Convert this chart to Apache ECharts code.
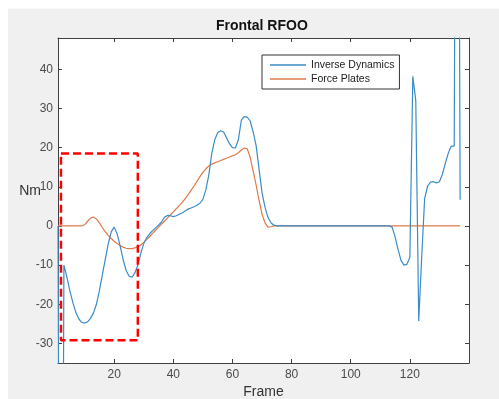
<!DOCTYPE html>
<html>
<head>
<meta charset="utf-8">
<script src="https://cdn.jsdelivr.net/npm/echarts@6/dist/echarts.min.js"></script>
<style>html,body{margin:0;padding:0;background:#fff}#c{width:499px;height:399px}</style>
</head>
<body>
<div id="c"></div>
<script>
// Inverse Dynamics, frames 1..137
var inverseDynamics = [
  0, -200, -10, -13, -16.5, -19.5, -22, -23.7, -24.6, -24.8,
  -24.5, -23.6, -22.2, -20, -16.5, -12.5, -8.5, -4.5, -1.5, -0.3,
  -2, -5, -8.5, -11.3, -12.8, -13.1, -12, -10, -7, -4.5,
  -3, -2, -1.2, -0.5, 0.2, 1, 2.2, 2.7, 2.6, 2.4,
  2.6, 3, 3.3, 3.8, 4.3, 4.6, 4.9, 5.3, 5.8, 6.8,
  9.2, 13, 18.5, 22, 23.8, 24.3, 24, 22.5, 21, 20,
  19.9, 22, 27, 27.9, 27.8, 26.8, 24, 20.5, 14.5, 8.5,
  4.8, 2.2, 0.8, 0.2,
  0, 0, 0, 0, 0, 0, 0, 0, 0, 0,
  0, 0, 0, 0, 0, 0, 0, 0, 0, 0,
  0, 0, 0, 0, 0, 0, 0, 0, 0, 0,
  0, 0, 0, 0, 0, 0, 0, 0, 0,
  -0.3, -2.8, -6, -8.8, -10, -9.8, -8, 38.2, 32, -24.3,
  -8, 7, 10.2, 11.2, 11.3, 11, 11.3, 13.2, 16, 18.6,
  20.4, 20.4, 220, 6.7
];
// Force Plates, frames 1..137
var forcePlates = [
  0, 0, 0, 0, 0, 0, 0, 0, 0, 0.3,
  1.2, 2, 2.3, 1.8, 0.8, -0.4, -1.5, -2.4, -3.2, -3.9,
  -4.5, -5, -5.4, -5.7, -5.8, -5.8, -5.6, -5.3, -4.9, -4.2,
  -3.5, -2.7, -1.9, -1.1, -0.3, 0.5, 1.2, 2, 2.8, 3.6,
  4.4, 5.2, 6, 7, 8, 9.1, 10.2, 11.4, 12.6, 13.7,
  14.6, 15.3, 15.8, 16.1, 16.4, 16.7, 17, 17.3, 17.6, 17.9,
  18.2, 18.7, 19.4, 19.9, 19.7, 17.5, 14, 10.5, 6.5, 3,
  0.8, -0.3, -0.2,
  0, 0, 0, 0, 0, 0, 0, 0, 0, 0,
  0, 0, 0, 0, 0, 0, 0, 0, 0, 0,
  0, 0, 0, 0, 0, 0, 0, 0, 0, 0,
  0, 0, 0, 0, 0, 0, 0, 0, 0, 0,
  0, 0, 0, 0, 0, 0, 0, 0, 0, 0,
  0, 0, 0, 0, 0, 0, 0, 0, 0, 0,
  0, 0, 0, 0
];
var xTicks = [20, 40, 60, 80, 100, 120];
var yTicks = [-30, -20, -10, 0, 10, 20, 30, 40];
var boxFrames = [2, 28];
var boxValues = [-29.2, 18.5];

function toPairs(arr) { return arr.map(function (v, i) { return [i + 1, v]; }); }
var boxData = [
  [boxFrames[0], boxValues[1]], [boxFrames[1], boxValues[1]],
  [boxFrames[1], boxValues[0]], [boxFrames[0], boxValues[0]],
  [boxFrames[0], boxValues[1]]
];

var axisCol = '#404040';
var labelCol = '#4a4a4a';
var FONT = 'Liberation Sans, Arial, sans-serif';

var chart = echarts.init(document.getElementById('c'), null, {renderer: 'canvas'});
chart.setOption({
  backgroundColor: '#f0f0f0',
  animation: false,
  graphic: [
    {type: 'rect', shape: {x: 0, y: 0, width: 499, height: 8}, style: {fill: '#ffffff'}, z: -10, silent: true},
    {type: 'rect', shape: {x: 0, y: 0, width: 8, height: 399}, style: {fill: '#ffffff'}, z: -10, silent: true},
    {type: 'rect', shape: {x: 8, y: 8, width: 491, height: 1}, style: {fill: '#f8f8f8'}, z: -10, silent: true}
  ],
  title: {
    text: 'Frontal RFOO',
    left: 216, top: 19, padding: 0,
    textStyle: {fontFamily: FONT, fontSize: 14, fontWeight: 'bold', color: '#111'}
  },
  legend: {
    data: ['Inverse Dynamics', 'Force Plates'],
    orient: 'vertical',
    left: 262, top: 55,
    padding: [4, 5, 4, 8],
    itemGap: 2,
    itemWidth: 36, itemHeight: 1.5,
    icon: 'rect',
    backgroundColor: '#ffffff',
    borderColor: '#333333', borderWidth: 1, borderRadius: 0,
    textStyle: {fontFamily: FONT, fontSize: 10.5, color: '#222', lineHeight: 12, padding: [0, 0, 0, 0]}
  },
  grid: {
    left: 58, top: 38, width: 411, height: 325,
    outerBoundsMode: 'none', containLabel: false,
    show: true, backgroundColor: '#ffffff', borderWidth: 0
  },
  xAxis: [{
    type: 'value', min: 1, max: 140,
    name: 'Frame', nameLocation: 'middle', nameGap: 22, nameMoveOverlap: false,
    nameTextStyle: {fontFamily: FONT, fontSize: 14, color: '#333'},
    axisLine: {show: true, onZero: false, lineStyle: {color: axisCol, width: 1}},
    axisTick: {show: true, inside: true, length: 4, customValues: xTicks, lineStyle: {color: axisCol}},
    axisLabel: {show: true, customValues: xTicks, margin: 6, fontFamily: FONT, fontSize: 12, color: labelCol},
    splitLine: {show: false}
  }, {
    type: 'value', min: 1, max: 140, position: 'top',
    axisLine: {show: true, onZero: false, lineStyle: {color: axisCol, width: 1}},
    axisTick: {show: true, inside: true, length: 4, customValues: xTicks, lineStyle: {color: axisCol}},
    axisLabel: {show: false},
    splitLine: {show: false}
  }],
  yAxis: [{
    type: 'value', min: -35, max: 48,
    name: 'Nm', nameLocation: 'middle', nameGap: 17, nameRotate: 0, nameMoveOverlap: false,
    nameTextStyle: {fontFamily: FONT, fontSize: 14, color: '#333', align: 'right', verticalAlign: 'bottom', padding: [0, 0, 2, 0]},
    axisLine: {show: true, onZero: false, lineStyle: {color: axisCol, width: 1}},
    axisTick: {show: true, inside: true, length: 4, customValues: yTicks, lineStyle: {color: axisCol}},
    axisLabel: {show: true, customValues: yTicks, margin: 5, fontFamily: FONT, fontSize: 12, color: labelCol},
    splitLine: {show: false}
  }, {
    type: 'value', min: -35, max: 48, position: 'right',
    axisLine: {show: true, onZero: false, lineStyle: {color: axisCol, width: 1}},
    axisTick: {show: true, inside: true, length: 4, customValues: yTicks, lineStyle: {color: axisCol}},
    axisLabel: {show: false},
    splitLine: {show: false}
  }],
  series: [{
    name: 'Inverse Dynamics', type: 'line', data: toPairs(inverseDynamics),
    xAxisIndex: 0, yAxisIndex: 0, clip: true,
    showSymbol: false, symbol: 'none', color: '#3a8cc6',
    lineStyle: {width: 1.2, color: '#3a8cc6'}, z: 3
  }, {
    name: 'Force Plates', type: 'line', data: toPairs(forcePlates),
    xAxisIndex: 0, yAxisIndex: 0, clip: true,
    showSymbol: false, symbol: 'none', color: '#e07a4a',
    lineStyle: {width: 1.2, color: '#e07a4a'}, z: 2
  }, {
    name: 'box', type: 'line', data: boxData,
    xAxisIndex: 0, yAxisIndex: 0, clip: false, silent: true,
    showSymbol: false, symbol: 'none', color: '#ff0000',
    lineStyle: {width: 2.5, color: '#ff0000', type: [8, 4]}, z: 4
  }]
});
</script>
</body>
</html>
